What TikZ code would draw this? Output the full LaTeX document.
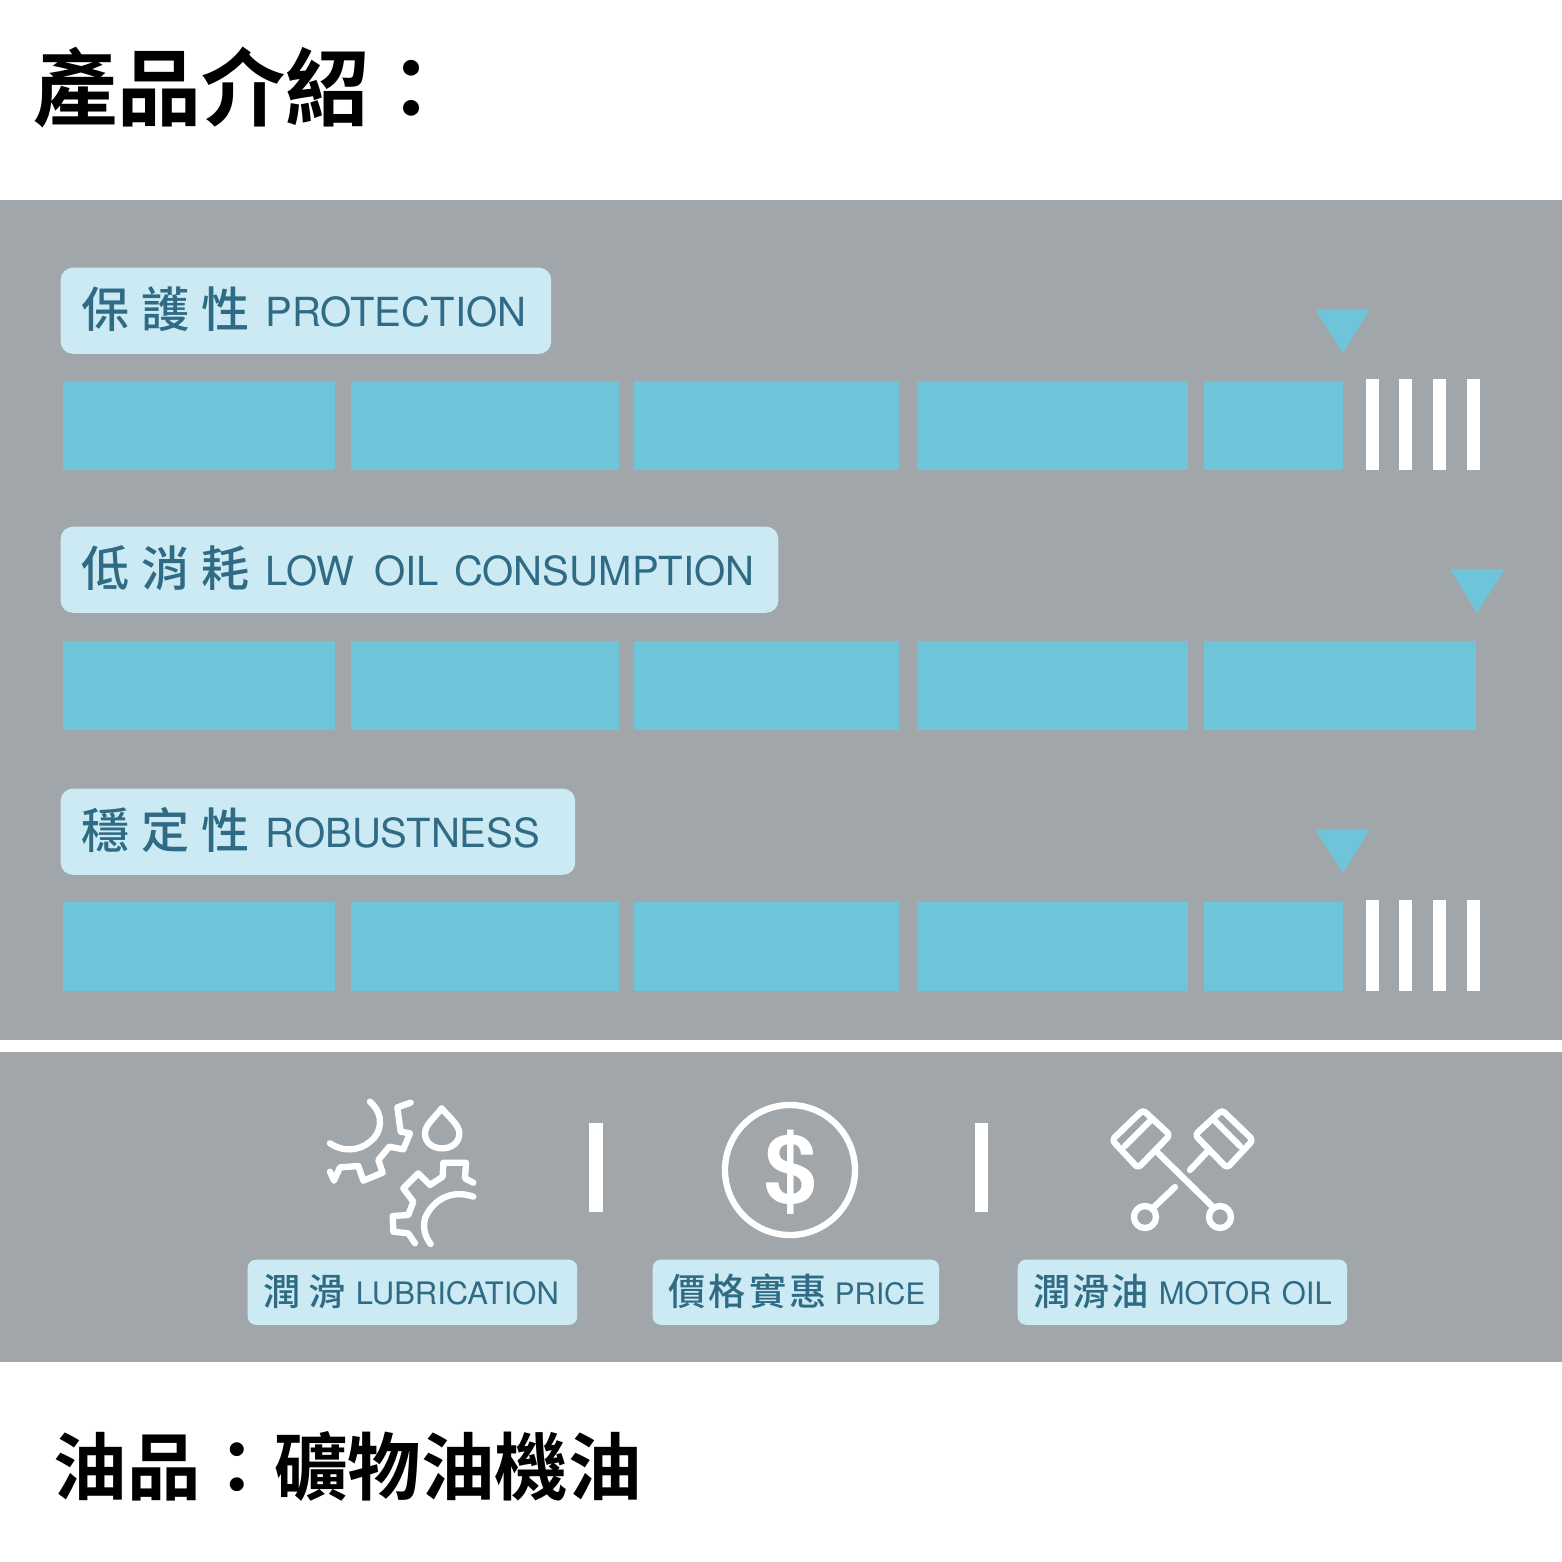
\documentclass[tikz,border=0pt]{standalone}
\usepackage{fontspec}
\setmainfont{TeX Gyre Heros}
\newfontfamily\cjkfont{Noto Sans CJK TC Medium}
\newfontfamily\cjkbold{Noto Sans CJK TC Bold}
\definecolor{panelgray}{HTML}{A1A6AA}
\definecolor{barblue}{HTML}{6EC5DA}
\definecolor{tagblue}{HTML}{CCEAF3}
\definecolor{tagtext}{HTML}{2F6B85}
\newcommand{\bigtag}[1]{\raisebox{-0.3pt}{\cjkfont\fontsize{13.7}{16}\selectfont #1}}
\newcommand{\smalltag}[1]{\raisebox{-0.3pt}{\cjkfont\fontsize{10.6}{13}\selectfont #1}}
\tikzset{
  bigbox/.style={fill=tagblue,text=tagtext,rounded corners=3.4pt,anchor=north west,inner xsep=6pt,inner ysep=0pt,minimum height=0.86cm,text depth=2.2pt,align=left,font=\fontsize{11.4}{14}\selectfont},
  smallbox/.style={fill=tagblue,text=tagtext,rounded corners=2.3pt,anchor=north west,inner xsep=4.6pt,inner ysep=0pt,minimum height=0.65cm,text depth=1.8pt,align=left,font=\fontsize{8.8}{11}\selectfont},
  heading/.style={anchor=west,inner sep=0pt},
  icon/.style={draw=white,line width=1.8pt,line join=round,line cap=round},
  tick/.style={fill=white}
}
\begin{document}
\begin{tikzpicture}[x=0.01cm,y=-0.01cm]
   \useasboundingbox (0,0) rectangle (1562,1562);
   \fill[white] (0,0) rectangle (1562,1562);
   \fill[panelgray] (0,200) rectangle (1562,1362);
   \fill[white] (0,1040) rectangle (1562,1052);
   \node[heading,font=\cjkbold\fontsize{23.9}{28}\selectfont] (title) at (33,87) {產品介紹：};
   \node[heading,font=\cjkbold\fontsize{20.9}{25}\selectfont] (oiltype) at (53,1466) {油品：礦物油機油};
   \foreach \y in {381,641,902} {
    \fill[barblue] (63,\y) rectangle +(271.5,89);
    \fill[barblue] (351,\y) rectangle +(268,89);
    \fill[barblue] (634,\y) rectangle +(265,89);
    \fill[barblue] (917,\y) rectangle +(271,89);
   }
   \fill[barblue] (1204,381) rectangle (1343,470);
   \fill[barblue] (1204,641) rectangle (1476,730);
   \fill[barblue] (1204,902) rectangle (1343,991);
   \foreach \y in {379,900} {
    \foreach \x in {1366,1399,1433,1467} {
     \fill[tick] (\x,\y) rectangle +(13,91);
    }
   }
   \fill[barblue] (1315,309) -- (1370,309) -- (1343,353) -- cycle;
   \fill[barblue] (1450,569) -- (1505,569) -- (1477,613) -- cycle;
   \fill[barblue] (1315,829) -- (1370,829) -- (1343,873) -- cycle;
   \node[bigbox,text width=4.48cm] (protection) at (60,267)
    {\bigtag{保\hspace{3.3pt}護\hspace{3.3pt}性}\hspace{0.8pt} PROTECTION};
   \node[bigbox,text width=6.75cm] (consumption) at (60,526)
    {\bigtag{低\hspace{3.3pt}消\hspace{3.3pt}耗}\hspace{0.8pt} LOW\hspace{1.8pt} OIL\hspace{0.6pt} CONSUMPTION};
   \node[bigbox,text width=4.72cm] (robustness) at (60,788)
    {\bigtag{穩\hspace{3.3pt}定\hspace{3.3pt}性}\hspace{0.8pt} ROBUSTNESS};
   \node[smallbox,text width=2.97cm] (lubrication) at (247,1259)
    {\smalltag{潤\hspace{2pt}滑} LUBRICATION};
   \node[smallbox,text width=2.54cm] (price) at (652,1259)
    {\mbox{\smalltag{價\hspace{0.8pt}格\hspace{0.8pt}實\hspace{0.8pt}惠}\hspace{-0.5pt} {\fontsize{8.4}{11}\selectfont PRICE}}};
   \node[smallbox,text width=2.97cm] (motoroil) at (1017,1259)
    {\mbox{\smalltag{潤\hspace{0.4pt}滑\hspace{0.4pt}油} MOTOR OIL}};
   \fill[tick] (589,1123) rectangle (603,1212);
   \fill[tick] (975,1123) rectangle (988,1212);
   % lubrication icon
   \begin{scope}[shift={(310,1090)},scale=1/3]
    \draw[icon] (180,35) .. controls (225,75) and (215,130) .. (180,155)
     .. controls (145,185) and (95,185) .. (60,160);
    \draw[icon] (302,38) -- (262,52) -- (272,125) -- (300,130) -- (280,178)
     -- (238,170) -- (205,210) -- (218,248) -- (160,272) -- (145,228)
     -- (90,232) -- (72,272) -- (60,245);
    \draw[icon] (395,55) .. controls (420,85) and (448,105) .. (448,130)
     .. controls (448,190) and (345,190) .. (345,130)
     .. controls (345,105) and (372,85) .. (395,55);
    \draw[icon] (490,320) .. controls (420,295) and (365,335) .. (345,385)
     .. controls (338,415) and (345,440) .. (362,462);
    \draw[icon] (490,278) -- (465,265) -- (468,218) -- (400,218) -- (398,260)
     -- (360,285) -- (325,250) -- (280,295) -- (310,335) -- (295,375)
     -- (248,378) -- (250,425) -- (295,430) -- (315,460);
   \end{scope}
   % price icon
   \draw[icon] (790,1170) circle (65);
   \node[inner sep=0pt,text=white,font=\bfseries\fontsize{27}{30}\selectfont] (dollar) at (791,1172) {\$};
   % motor oil icon
   \draw[icon,rounded corners=1pt] (1143,1110) -- (1170,1135) -- (1138,1168) -- (1112,1140) -- cycle;
   \draw[icon] (1125,1146) -- (1150,1121);
   \draw[icon] (1157,1152) -- (1213,1207);
   \draw[icon] (1220,1217) circle (11);
   \draw[icon,rounded corners=1pt] (1222,1110) -- (1195,1135) -- (1227,1168) -- (1253,1140) -- cycle;
   \draw[icon] (1240,1146) -- (1215,1121);
   \draw[icon] (1207,1152) -- (1190,1170);
   \draw[icon] (1175,1187) -- (1153,1208);
   \draw[icon] (1145,1217) circle (11);
\end{tikzpicture}
\end{document}
